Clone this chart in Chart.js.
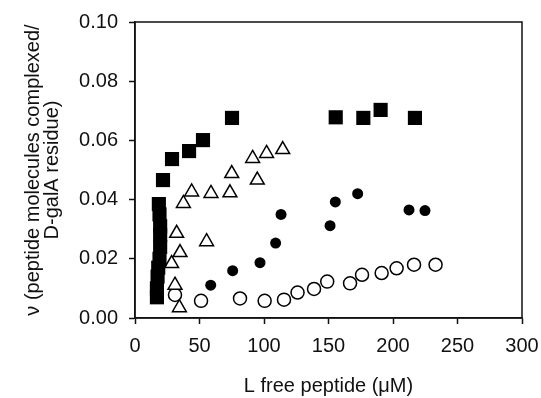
<!DOCTYPE html>
<html>
<head>
<meta charset="utf-8">
<script src="https://cdn.jsdelivr.net/npm/chart.js@4/dist/chart.umd.min.js"></script>
<style>
  html, body { margin: 0; padding: 0; background: #fff; }
  #wrap { width: 541px; height: 398px; }
</style>
</head>
<body>
<div id="wrap"><canvas id="chart"></canvas></div>
<script>
// filled squares
const squareX = [17, 17, 17.5, 18, 19, 19.5, 19.5, 19.5, 19, 18.5, 21.7, 28.7, 41.9, 52.7, 75.2, 155.6, 177, 190.4, 217]
const squareY = [0.007, 0.010, 0.014, 0.017, 0.020, 0.024, 0.028, 0.031, 0.035, 0.0385, 0.0466, 0.0537, 0.0564, 0.0601, 0.0676, 0.0678, 0.0676, 0.0703, 0.0676]
// open triangles
const triX = [34.4, 31, 28.4, 34.9, 32.3, 55.5, 37.5, 43.9, 58.9, 73.6, 75, 94.8, 91.2, 102, 114.5]
const triY = [0.0035, 0.0111, 0.0184, 0.0221, 0.0286, 0.0258, 0.0387, 0.0426, 0.0421, 0.0423, 0.0488, 0.0466, 0.0539, 0.0556, 0.0569]
// filled circles
const dotX = [58.7, 75.7, 96.9, 109, 113.2, 151.2, 155.3, 172.6, 212.4, 224.8]
const dotY = [0.0111, 0.016, 0.0187, 0.0253, 0.035, 0.0312, 0.0392, 0.042, 0.0365, 0.0363]
// open circles
const ringX = [31, 51.2, 81.4, 100.5, 115.5, 126, 138.8, 149, 166.7, 176, 191.2, 202.8, 216.3, 233]
const ringY = [0.0078, 0.0058, 0.0066, 0.0058, 0.0062, 0.0086, 0.0098, 0.0123, 0.0117, 0.0146, 0.0152, 0.0168, 0.018, 0.018]

const xTicks = [0, 50, 100, 150, 200, 250, 300]
const yTicks = [0, 0.02, 0.04, 0.06, 0.08, 0.10]

const toPoints = (xs, ys) => xs.map((x, i) => ({ x: x, y: ys[i] }))

const font = 'Liberation Sans, Arial, sans-serif'

// axes box: draw the top and right edges too
const frame = {
  id: 'frame',
  afterDraw(chart) {
    const { ctx, chartArea: a } = chart
    ctx.save()
    ctx.strokeStyle = '#111'
    ctx.lineWidth = 1.5
    ctx.strokeRect(a.left, a.top, a.right - a.left, a.bottom - a.top)
    ctx.restore()
  }
}

const noPad = s => {
  s.paddingLeft = 0
  s.paddingRight = 0
  s.paddingTop = 0
  s.paddingBottom = 0
}

new Chart(document.getElementById('chart'), {
  type: 'scatter',
  data: {
    datasets: [
      {
        data: toPoints(squareX, squareY),
        pointStyle: 'rect', pointRadius: 10,
        backgroundColor: '#000', borderColor: '#000', borderWidth: 0
      },
      {
        data: toPoints(triX, triY),
        pointStyle: 'triangle', pointRadius: 8,
        backgroundColor: '#fff', borderColor: '#000', borderWidth: 1.5
      },
      {
        data: toPoints(dotX, dotY),
        pointStyle: 'circle', pointRadius: 5.5,
        backgroundColor: '#000', borderColor: '#000', borderWidth: 0
      },
      {
        data: toPoints(ringX, ringY),
        pointStyle: 'circle', pointRadius: 6.5,
        backgroundColor: '#fff', borderColor: '#000', borderWidth: 1.5
      }
    ]
  },
  options: {
    responsive: true,
    maintainAspectRatio: false,
    animation: false,
    clip: false,
    layout: { padding: { left: 0, right: 19, top: 22, bottom: 0 } },
    plugins: { legend: { display: false }, tooltip: { enabled: false } },
    scales: {
      x: {
        type: 'linear', min: 0, max: 300,
        afterBuildTicks: s => { s.ticks = xTicks.map(v => ({ value: v })) },
        afterFit: s => { s.height = 80; noPad(s) },
        grid: { drawOnChartArea: false, drawTicks: true, tickLength: 6, color: '#111', tickWidth: 1.5 },
        border: { display: true, color: '#111', width: 1.5 },
        ticks: { color: '#111', font: { family: font, size: 20 }, padding: 10, maxRotation: 0 },
        title: {
          display: true, text: 'L free peptide (\u03bcM)', color: '#111',
          font: { family: font, size: 20 }, padding: { top: 0, bottom: 0 }
        }
      },
      y: {
        type: 'linear', min: 0, max: 0.1,
        afterBuildTicks: s => { s.ticks = yTicks.map(v => ({ value: v })) },
        afterFit: s => { s.width = 135; noPad(s) },
        grid: { drawOnChartArea: false, drawTicks: true, tickLength: 6, color: '#111', tickWidth: 1.5 },
        border: { display: true, color: '#111', width: 1.5 },
        ticks: { color: '#111', font: { family: font, size: 20 }, padding: 11, callback: v => v.toFixed(2) },
        title: {
          display: true,
          text: ['\u03bd (peptide molecules complexed/', 'D-galA residue)'],
          color: '#111',
          font: { family: font, size: 20, lineHeight: 0.95 },
          padding: { top: 24, bottom: 0 }
        }
      }
    }
  },
  plugins: [frame]
})
</script>
</body>
</html>
